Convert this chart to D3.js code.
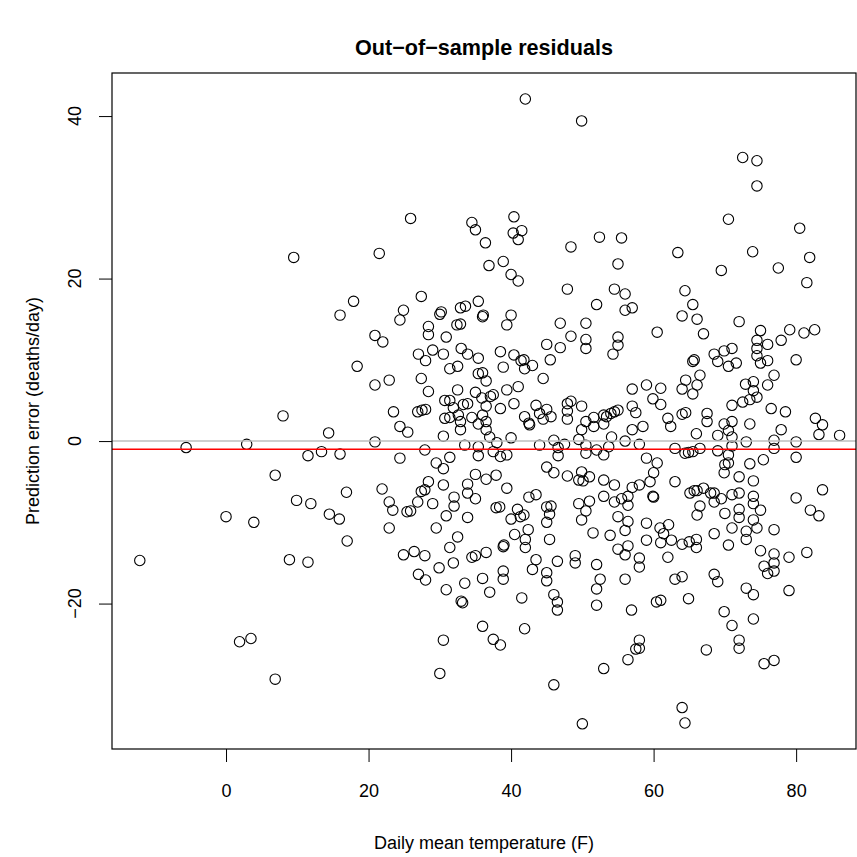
<!DOCTYPE html>
<html>
<head>
<meta charset="utf-8">
<script src="https://cdn.jsdelivr.net/npm/d3@7"></script>
<style>
  body { margin: 0; background: #ffffff; }
  svg text { font-family: "Liberation Sans", Arial, Helvetica, sans-serif; fill: #000; }
</style>
</head>
<body>
<svg id="chart" width="857" height="857"></svg>
<script>
// ---------- text ----------
const chartTitle = "Out\u2212of\u2212sample residuals";
const xTitle = "Daily mean temperature (F)";
const yTitle = "Prediction error (deaths/day)";
const xTickValues = [0, 20, 40, 60, 80];
const yTickValues = [-20, 0, 20, 40];
const zeroResidual = 0;
const meanResidual = -1.0;
const xDomain = [-16.0, 88.4];
const yDomain = [-37.9, 45.3];

// ---------- data: [temperature (F), residual (deaths/day)] ----------
const coldSparse = [[9.5,22.6],[17.9,17.2],[16.0,15.5],[18.4,9.2],[8.0,3.1],[14.4,1.0],[2.9,-0.4],[-5.6,-0.8],[11.5,-1.8],[13.4,-1.3],[16.0,-1.6],[6.9,-4.2],[16.9,-6.3],[9.9,-7.3],[11.9,-7.7],[14.5,-9.0],[15.9,-9.6],[0.0,-9.3],[3.9,-10.0],[17.0,-12.3],[-12.1,-14.7],[8.9,-14.6],[11.5,-14.9],[1.9,-24.7],[3.5,-24.3],[6.9,-29.3]];

const coolUpper = [[42.0,42.1],[49.9,39.4],[25.9,27.4],[21.5,23.1],[34.5,26.9],[35.0,26.0],[40.4,27.6],[40.3,25.6],[41.5,25.9],[41.0,24.8],[36.4,24.4],[48.4,23.9],[52.4,25.1],[38.9,22.1],[36.9,21.6],[40.0,20.5],[41.0,19.7],[47.9,18.7],[27.4,17.8],[35.4,17.2]];

const warmUpper = [[72.5,34.9],[74.5,34.5],[74.5,31.4],[70.5,27.3],[80.5,26.2],[55.5,25.0],[63.4,23.2],[73.9,23.3],[81.9,22.6],[55.0,21.8],[69.5,21.0],[77.5,21.3],[81.5,19.5],[54.5,18.7],[56.0,18.1],[64.4,18.5]];

const coolLower = [[22.9,-10.7],[29.5,-10.7],[32.5,-11.8],[31.4,-13.1],[24.9,-14.0],[26.4,-13.6],[27.9,-14.1],[29.9,-15.6],[31.9,-15.0],[34.5,-14.3],[35.0,-14.1],[36.5,-13.7],[38.9,-13.0],[39.0,-12.8],[40.5,-11.5],[42.4,-10.9],[42.0,-12.1],[42.0,-13.1],[45.4,-12.1],[43.5,-14.6],[43.0,-15.8],[46.5,-14.8],[45.0,-16.2],[45.0,-17.2],[49.0,-14.1],[49.0,-15.0],[51.5,-11.3],[53.9,-11.6],[52.0,-15.2],[52.5,-17.0],[52.0,-18.2],[52.0,-20.2],[27.0,-16.4],[28.0,-17.1],[30.9,-18.3],[33.5,-17.5],[36.0,-16.9],[38.9,-16.0],[38.9,-17.0],[37.0,-18.6],[33.0,-19.7],[33.2,-19.9],[41.5,-19.3],[46.0,-18.9],[46.5,-19.8],[46.5,-20.8],[36.0,-22.8],[41.9,-23.1],[30.5,-24.5],[37.5,-24.4],[38.5,-25.1],[30.0,-28.6],[46.0,-30.0],[53.0,-28.0],[50.0,-34.8]];

const warmLower = [[56.0,-11.0],[60.9,-10.7],[62.1,-10.3],[61.4,-11.4],[61.0,-12.5],[62.5,-12.2],[59.0,-12.2],[56.4,-12.9],[55.0,-13.3],[56.0,-14.0],[58.0,-14.4],[58.0,-15.5],[62.0,-14.3],[64.0,-12.7],[65.0,-12.4],[66.0,-12.1],[66.0,-13.1],[68.5,-11.4],[70.5,-12.8],[71.0,-10.7],[73.0,-11.1],[73.0,-12.1],[74.5,-10.7],[76.9,-10.9],[75.0,-13.5],[76.9,-13.9],[76.9,-15.0],[76.9,-16.0],[75.5,-15.4],[76.0,-16.3],[79.0,-14.3],[81.5,-13.7],[79.0,-18.4],[56.0,-17.0],[63.0,-17.0],[64.0,-16.7],[68.5,-16.4],[69.0,-17.3],[73.0,-18.1],[74.0,-18.9],[60.4,-19.8],[61.0,-19.6],[64.9,-19.4],[56.9,-20.8],[69.9,-21.0],[71.0,-22.7],[74.0,-21.9],[72.0,-24.5],[72.0,-25.5],[58.0,-24.5],[57.5,-25.6],[58.0,-25.5],[56.4,-26.9],[67.4,-25.7],[75.5,-27.4],[76.9,-27.0],[64.0,-32.8],[64.4,-34.7]];

const coolMiddle = [[32.9,16.4],[33.6,16.6],[24.9,16.1],[24.4,14.9],[30.0,15.6],[30.2,15.9],[36.0,15.3],[36.1,15.5],[40.0,15.5],[39.4,14.3],[52.0,16.8],[46.9,14.5],[50.5,14.5],[28.4,14.1],[28.4,13.1],[32.4,14.3],[32.9,14.4],[20.9,13.0],[22.0,12.2],[30.9,12.8],[48.4,12.9],[50.5,12.5],[50.5,11.4],[45.0,11.9],[46.9,11.5],[27.0,10.7],[29.0,11.2],[30.5,10.7],[33.0,11.4],[33.9,10.7],[35.4,10.2],[38.5,11.0],[40.4,10.6],[41.4,9.9],[41.8,10.0],[41.9,8.9],[43.0,9.3],[45.5,10.0],[28.0,9.9],[31.4,8.9],[32.5,9.2],[38.9,9.1],[27.4,7.7],[22.9,7.5],[20.9,6.9],[35.4,8.3],[36.0,8.4],[36.5,7.4],[44.5,7.7],[41.0,6.7],[39.4,6.3],[28.4,6.1],[32.5,6.3],[35.0,6.0],[35.9,5.3],[37.1,5.5],[37.5,5.7],[30.7,5.0],[31.4,5.0],[31.9,4.1],[33.3,4.5],[33.9,4.6],[36.5,4.3],[40.4,4.6],[38.5,4.0],[43.5,4.4],[45.0,3.9],[44.0,3.4],[45.6,3.0],[44.5,2.7],[41.9,3.0],[42.5,2.2],[42.6,2.0],[23.5,3.6],[26.9,3.6],[27.5,3.8],[28.0,3.9],[30.7,2.8],[31.4,2.9],[32.6,3.2],[34.5,2.9],[36.0,3.2],[35.4,2.1],[32.9,2.4],[32.9,1.4],[36.5,2.4],[36.5,1.4],[37.0,0.5],[24.4,1.8],[25.5,1.1],[30.5,0.6],[40.0,0.4],[38.0,-0.2],[20.9,-0.1],[33.5,-0.5],[44.0,-0.5],[46.0,0.1],[47.5,-0.4],[46.6,-0.8],[46.6,-1.8],[47.9,4.6],[48.4,4.9],[47.9,3.7],[47.9,2.7],[49.9,4.3],[49.9,1.4],[50.5,2.4],[51.6,2.9],[51.6,1.8],[53.0,3.2],[53.4,3.0],[53.0,2.1],[49.5,0.2],[50.5,-0.5],[50.5,-1.5],[52.0,-1.1],[53.0,-1.7],[53.7,-0.7],[35.4,-0.7],[35.4,-1.8],[37.5,-1.3],[38.5,-1.9],[39.4,-1.7],[27.9,-1.1],[24.4,-2.1],[29.5,-2.7],[31.4,-2.0],[30.5,-3.4],[45.0,-3.2],[46.0,-3.9],[35.0,-4.1],[36.5,-4.7],[37.9,-4.2],[47.9,-4.3],[49.9,-3.8],[49.5,-4.8],[50.1,-4.9],[51.0,-4.4],[53.0,-4.8],[28.4,-5.0],[30.5,-5.4],[33.9,-5.3],[33.9,-6.4],[35.0,-7.1],[39.4,-5.8],[21.9,-5.9],[27.4,-6.2],[27.9,-6.0],[22.9,-7.5],[23.4,-8.5],[26.9,-7.5],[29.0,-7.7],[32.0,-6.9],[32.0,-8.0],[25.4,-8.7],[25.9,-8.6],[30.9,-9.2],[33.9,-9.4],[37.9,-8.2],[38.4,-8.1],[42.5,-6.9],[43.5,-6.6],[40.9,-8.4],[40.0,-9.6],[41.8,-9.1],[41.3,-9.3],[45.0,-8.1],[45.6,-8.0],[45.4,-9.0],[45.0,-10.0],[49.5,-7.7],[51.0,-7.4],[50.5,-8.6],[49.9,-9.7],[53.0,-6.8]];

const warmMiddle = [[56.0,16.1],[57.0,16.4],[65.5,16.8],[64.0,15.4],[66.1,15.0],[72.0,14.7],[60.5,13.4],[67.0,13.2],[55.0,12.8],[55.0,11.8],[54.3,10.7],[75.0,13.6],[74.5,12.4],[74.5,11.4],[74.5,10.5],[76.0,11.9],[77.9,12.4],[79.1,13.7],[81.1,13.3],[82.6,13.7],[80.0,10.0],[76.0,9.9],[75.0,9.6],[68.5,10.7],[69.9,11.1],[71.0,11.4],[69.0,9.8],[70.5,9.2],[71.6,9.6],[65.5,9.8],[65.7,10.0],[66.5,8.1],[64.5,7.5],[66.1,6.9],[64.0,6.4],[65.5,5.8],[59.0,6.9],[61.0,6.5],[57.0,6.4],[59.9,5.2],[61.0,4.5],[57.0,4.3],[57.5,3.5],[55.0,3.8],[54.5,3.6],[54.0,3.4],[72.9,7.0],[74.0,7.3],[74.0,6.2],[74.5,5.4],[73.5,5.1],[72.5,4.8],[71.0,4.4],[76.0,6.9],[76.9,8.1],[76.5,4.0],[78.5,3.6],[67.5,3.4],[67.5,2.4],[64.0,3.3],[64.5,3.5],[62.0,2.8],[62.4,1.8],[58.5,1.8],[57.0,1.4],[56.0,0.0],[58.0,-0.4],[54.1,0.5],[66.0,0.9],[69.0,0.7],[69.9,2.1],[71.0,2.4],[70.5,1.3],[71.0,0.5],[71.0,-0.6],[73.5,2.1],[73.0,-0.1],[77.9,1.4],[76.9,0.1],[76.9,-0.9],[80.0,-0.1],[82.7,2.8],[83.7,2.0],[83.2,0.8],[86.1,0.7],[63.0,-0.9],[64.4,-1.5],[64.9,-1.4],[65.5,-1.3],[66.5,-0.9],[69.0,-1.2],[70.5,-1.7],[70.5,-2.7],[70.0,-2.9],[69.9,-3.9],[73.5,-2.8],[75.4,-2.3],[80.0,-2.0],[59.0,-2.1],[60.5,-2.7],[60.0,-3.9],[59.5,-5.0],[58.0,-5.4],[57.0,-5.7],[54.5,-5.4],[63.0,-5.0],[72.0,-4.4],[74.0,-4.9],[83.7,-6.0],[80.0,-7.0],[56.4,-6.8],[55.5,-7.1],[54.5,-7.5],[56.4,-7.9],[59.9,-6.8],[60.0,-6.9],[65.1,-6.4],[65.7,-6.1],[66.1,-6.1],[67.0,-5.8],[68.0,-6.4],[68.5,-6.4],[68.5,-7.5],[69.5,-7.1],[71.0,-6.6],[72.0,-6.4],[74.0,-6.8],[74.0,-7.7],[75.0,-8.5],[72.0,-8.4],[72.0,-9.4],[66.5,-8.0],[66.1,-9.1],[70.0,-8.9],[82.0,-8.5],[83.2,-9.2],[55.0,-9.3],[56.4,-9.9],[59.0,-10.1],[74.0,-9.7]];

const points = [].concat(coldSparse, coolUpper, warmUpper, coolLower, warmLower, coolMiddle, warmMiddle);

// ---------- layout ----------
const W = 857, H = 857;
const box = { left: 112, right: 856, top: 73, bottom: 749 };
const fontSize = 18;

const svg = d3.select("#chart");
svg.append("rect").attr("width", W).attr("height", H).attr("fill", "#ffffff");

const x = d3.scaleLinear().domain(xDomain).range([box.left, box.right]);
const y = d3.scaleLinear().domain(yDomain).range([box.bottom, box.top]);

// points
svg.append("g").selectAll("circle")
  .data(points)
  .join("circle")
  .attr("cx", d => x(d[0]))
  .attr("cy", d => y(d[1]))
  .attr("r", 5.2)
  .attr("fill", "none")
  .attr("stroke", "#000")
  .attr("stroke-width", 1.1);

// reference lines
svg.append("line")
  .attr("x1", box.left).attr("x2", box.right)
  .attr("y1", y(zeroResidual)).attr("y2", y(zeroResidual))
  .attr("stroke", "#bebebe").attr("stroke-width", 1.4);
svg.append("line")
  .attr("x1", box.left).attr("x2", box.right)
  .attr("y1", y(meanResidual)).attr("y2", y(meanResidual))
  .attr("stroke", "#ff0000").attr("stroke-width", 1.4);

// x axis
const xAxis = svg.append("g")
  .attr("transform", `translate(0,${box.bottom})`)
  .call(d3.axisBottom(x).tickValues(xTickValues).tickSize(13).tickPadding(22).tickFormat(d3.format("d")));
xAxis.select(".domain").remove();
xAxis.selectAll("line").attr("stroke", "#000").attr("stroke-width", 1);
xAxis.selectAll("text").attr("font-size", fontSize).attr("font-family", null);

// y axis (ticks only; rotated labels drawn separately)
const yAxis = svg.append("g")
  .attr("transform", `translate(${box.left},0)`)
  .call(d3.axisLeft(y).tickValues(yTickValues).tickSize(13).tickFormat(""));
yAxis.select(".domain").remove();
yAxis.selectAll("line").attr("stroke", "#000").attr("stroke-width", 1);

svg.append("g").selectAll("text")
  .data(yTickValues)
  .join("text")
  .attr("transform", d => `translate(81,${y(d)}) rotate(-90)`)
  .attr("text-anchor", "middle")
  .attr("font-size", fontSize)
  .text(d => d3.format("d")(d));

// plot box
svg.append("rect")
  .attr("x", box.left).attr("y", box.top)
  .attr("width", box.right - box.left).attr("height", box.bottom - box.top)
  .attr("fill", "none").attr("stroke", "#000").attr("stroke-width", 1.2);

// titles
svg.append("text")
  .attr("x", (box.left + box.right) / 2).attr("y", 55)
  .attr("text-anchor", "middle")
  .attr("font-size", 21.6).attr("font-weight", "bold")
  .text(chartTitle);

svg.append("text")
  .attr("x", (box.left + box.right) / 2).attr("y", 849)
  .attr("text-anchor", "middle")
  .attr("font-size", fontSize)
  .text(xTitle);

svg.append("text")
  .attr("transform", `translate(39,${(box.top + box.bottom) / 2}) rotate(-90)`)
  .attr("text-anchor", "middle")
  .attr("font-size", fontSize)
  .text(yTitle);
</script>
</body>
</html>
